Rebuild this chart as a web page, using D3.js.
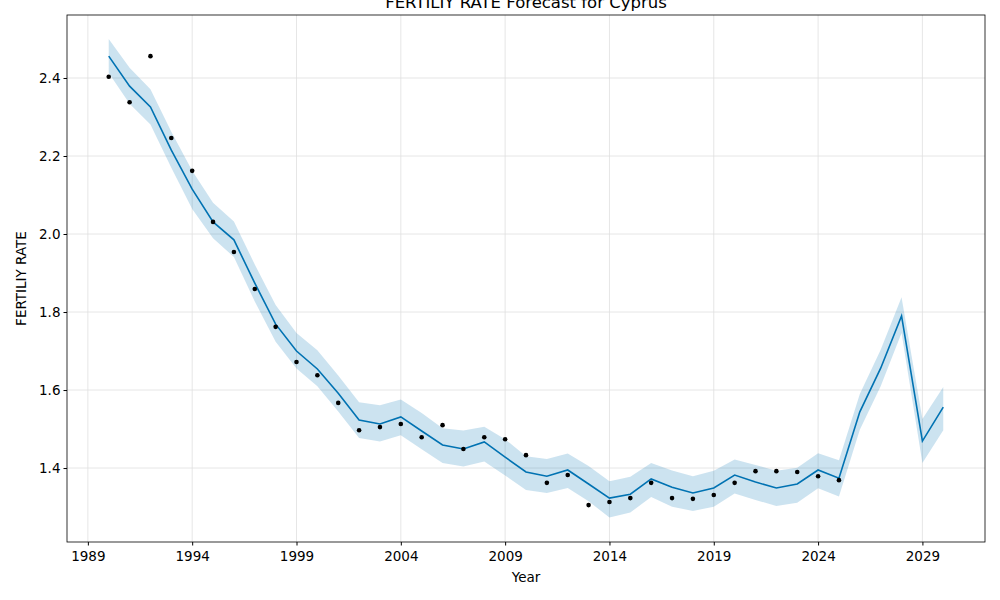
<!DOCTYPE html>
<html><head><meta charset="utf-8">
<script src="https://cdn.jsdelivr.net/npm/d3@7"></script>
<style>body{margin:0;background:#fff}text{font-family:"DejaVu Sans",sans-serif}</style>
</head><body><svg id="c" width="1000" height="600"></svg>
<script>
const actualYears = d3.range(1990, 2026);
const actual = [2.403,2.338,2.456,2.246,2.162,2.031,1.954,1.859,1.762,1.672,1.638,1.567,1.497,1.505,1.513,1.479,1.510,1.449,1.479,1.474,1.433,1.362,1.382,1.305,1.313,1.323,1.362,1.323,1.321,1.331,1.362,1.392,1.392,1.390,1.379,1.369];
const fcYears = d3.range(1990, 2031);
const yhat = [2.456,2.379,2.326,2.215,2.115,2.031,1.985,1.874,1.769,1.700,1.654,1.592,1.523,1.513,1.531,1.495,1.459,1.449,1.467,1.428,1.390,1.379,1.395,1.359,1.323,1.333,1.372,1.351,1.336,1.349,1.382,1.364,1.349,1.359,1.395,1.374,1.544,1.656,1.790,1.469,1.556];
const upper = [2.500,2.426,2.371,2.262,2.162,2.080,2.032,1.922,1.818,1.746,1.702,1.637,1.569,1.561,1.576,1.541,1.502,1.496,1.506,1.474,1.430,1.423,1.437,1.405,1.366,1.378,1.413,1.394,1.379,1.393,1.422,1.408,1.393,1.401,1.438,1.420,1.590,1.703,1.838,1.526,1.608];
const lower = [2.413,2.334,2.281,2.170,2.064,1.989,1.941,1.827,1.724,1.655,1.610,1.545,1.477,1.468,1.484,1.448,1.413,1.404,1.417,1.381,1.344,1.336,1.349,1.315,1.273,1.286,1.326,1.301,1.290,1.301,1.335,1.318,1.303,1.311,1.348,1.327,1.498,1.610,1.746,1.413,1.497];
const xTicks = [1989,1994,1999,2004,2009,2014,2019,2024,2029];
const yTicks = [1.4,1.6,1.8,2.0,2.2,2.4];

const svg = d3.select("#c");
const L=67,R=985,T=15,B=542;
const x = d3.scaleLinear().domain([1988,2032]).range([L,R]);
const y = d3.scaleLinear().domain([1.2104,2.5615]).range([B,T]);
const g = svg.append("g");
g.selectAll(".gx").data(xTicks).join("line").attr("x1",d=>x(d)).attr("x2",d=>x(d)).attr("y1",T).attr("y2",B).attr("stroke","#e0e0e0").attr("stroke-width",0.8);
g.selectAll(".gy").data(yTicks).join("line").attr("y1",d=>y(d)).attr("y2",d=>y(d)).attr("x1",L).attr("x2",R).attr("stroke","#e0e0e0").attr("stroke-width",0.8);
g.append("path").datum(fcYears.map((yr,i)=>[yr,lower[i],upper[i]]))
 .attr("d",d3.area().x(d=>x(d[0])).y0(d=>y(d[1])).y1(d=>y(d[2]))).attr("fill","#0072B2").attr("opacity",0.2);
g.append("path").datum(fcYears.map((yr,i)=>[yr,yhat[i]]))
 .attr("d",d3.line().x(d=>x(d[0])).y(d=>y(d[1]))).attr("fill","none").attr("stroke","#0072B2").attr("stroke-width",1.6);
g.selectAll(".pt").data(actualYears.map((yr,i)=>[yr,actual[i]])).join("circle")
 .attr("cx",d=>x(d[0])).attr("cy",d=>y(d[1])).attr("r",2.3).attr("fill","#000");
svg.append("rect").attr("x",L).attr("y",T).attr("width",R-L).attr("height",B-T).attr("fill","none").attr("stroke","#000").attr("stroke-width",0.8);
svg.append("g").attr("transform",`translate(0,${B})`).call(d3.axisBottom(x).tickValues(xTicks).tickFormat(d3.format("d")).tickSize(3.5).tickSizeOuter(0))
 .call(a=>{a.select(".domain").remove();a.selectAll("text").attr("font-size",13.5).attr("fill","#000").attr("dy","0.9em");});
svg.append("g").attr("transform",`translate(${L},0)`).call(d3.axisLeft(y).tickValues(yTicks).tickFormat(d3.format(".1f")).tickSize(3.5).tickSizeOuter(0))
 .call(a=>{a.select(".domain").remove();a.selectAll("text").attr("font-size",13.5).attr("fill","#000");});
svg.append("text").attr("x",(L+R)/2).attr("y",582).attr("text-anchor","middle").attr("font-size",13.5).text("Year");
svg.append("text").attr("transform",`translate(26,${(T+B)/2}) rotate(-90)`).attr("text-anchor","middle").attr("font-size",13.5).text("FERTILIY RATE");
svg.append("text").attr("x",(L+R)/2).attr("y",8).attr("text-anchor","middle").attr("font-size",16.5).text("FERTILIY RATE Forecast for Cyprus");
</script></body></html>
